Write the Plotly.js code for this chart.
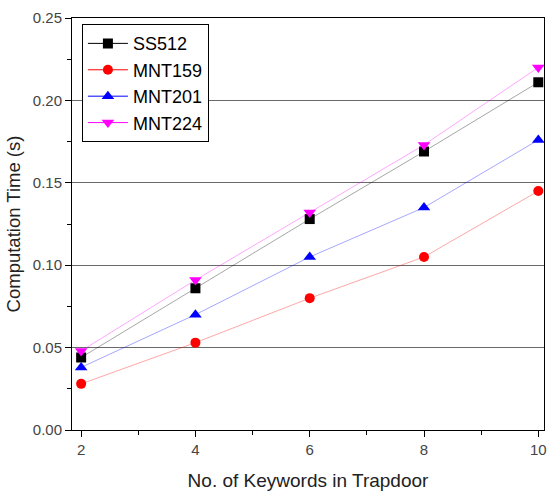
<!DOCTYPE html>
<html>
<head>
<meta charset="utf-8">
<script src="https://cdn.plot.ly/plotly-3.0.1.min.js"></script>
<style>html,body{margin:0;padding:0;background:#fff;}#chart{width:547px;height:493px;}</style>
</head>
<body>
<div id="chart"></div>
<script>
var keywords = [2, 4, 6, 8, 10];
var ss512  = [0.044, 0.086, 0.128, 0.169, 0.211];
var mnt159 = [0.028, 0.053, 0.080, 0.105, 0.145];
var mnt201 = [0.038, 0.070, 0.105, 0.135, 0.176];
var mnt224 = [0.048, 0.091, 0.132, 0.173, 0.220];
var seriesNames = ['SS512', 'MNT159', 'MNT201', 'MNT224'];

function tr(name, y, color, lineColor, symbol, size) {
  return {
    x: keywords, y: y, name: name, type: 'scatter', mode: 'lines+markers',
    line: {color: lineColor, width: 1},
    marker: {color: color, symbol: symbol, size: size}
  };
}
var data = [
  tr(seriesNames[0], ss512, '#000000', 'rgba(0,0,0,0.35)', 'square', 10),
  tr(seriesNames[1], mnt159, '#ff0000', 'rgba(255,0,0,0.35)', 'circle', 10),
  tr(seriesNames[2], mnt201, '#0000ff', 'rgba(0,0,255,0.35)', 'triangle-up', 11),
  tr(seriesNames[3], mnt224, '#ff00ff', 'rgba(255,0,255,0.35)', 'triangle-down', 11)
];
var layout = {
  width: 547, height: 493,
  margin: {l: 72, r: 3, t: 18, b: 63},
  paper_bgcolor: '#fff', plot_bgcolor: '#fff',
  font: {family: '"Liberation Sans", Arial, sans-serif', color: '#222'},
  showlegend: true,
  legend: {
    x: 0.021, y: 0.985, xanchor: 'left', yanchor: 'top',
    bordercolor: '#000', borderwidth: 1, bgcolor: '#fff',
    font: {size: 18, color: '#000'}, tracegroupgap: 0, itemwidth: 40
  },
  xaxis: {
    range: [1.84, 10.1], tickvals: [2, 4, 6, 8, 10],
    ticks: 'outside', ticklen: 6, tickcolor: '#000', tickwidth: 1,
    minor: {tickvals: [3, 5, 7, 9], ticks: 'outside', ticklen: 4, tickcolor: '#000'},
    showline: true, linecolor: '#000', linewidth: 1, mirror: true,
    showgrid: false, zeroline: false,
    tickfont: {size: 15, color: '#444'},
    title: {text: 'No. of Keywords in Trapdoor', font: {size: 19, color: '#222'}, standoff: 16}
  },
  yaxis: {
    range: [0, 0.25], tickvals: [0, 0.05, 0.10, 0.15, 0.20, 0.25],
    ticktext: ['0.00', '0.05', '0.10', '0.15', '0.20', '0.25'],
    ticks: 'outside', ticklen: 6, tickcolor: '#000', tickwidth: 1,
    minor: {tickvals: [0.025, 0.075, 0.125, 0.175, 0.225], ticks: 'outside', ticklen: 4, tickcolor: '#000', showgrid: false},
    showline: true, linecolor: '#000', linewidth: 1, mirror: true,
    showgrid: true, gridcolor: '#6a6a6a', gridwidth: 1, zeroline: false,
    tickfont: {size: 15, color: '#444'},
    title: {text: 'Computation Time (s)', font: {size: 18.5, color: '#222'}, standoff: 7}
  }
};
Plotly.newPlot('chart', data, layout, {displayModeBar: false, staticPlot: true}).then(function(){
  var cols = ['#000', '#f00', '#00f', '#f0f'];
  document.querySelectorAll('.legend .traces').forEach(function(g, i){
    var p = g.querySelector('.js-line');
    if (p) { p.style.stroke = cols[i]; p.style.strokeOpacity = 1; }
  });
});
</script>
</body>
</html>
